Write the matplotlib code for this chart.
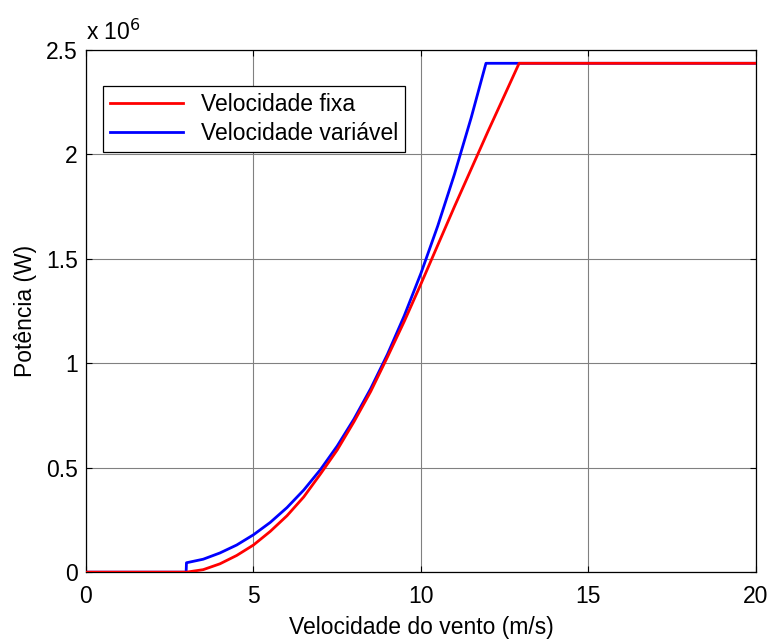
import matplotlib
matplotlib.use("Agg")
import matplotlib.pyplot as plt
from matplotlib.ticker import FuncFormatter, MultipleLocator

plt.rcParams.update({
    'font.family': ['Liberation Sans', 'DejaVu Sans'],
    'font.size': 16.5,
})

# wind speed (m/s) and power (W)
v_fixa = [0, 3.0, 3.5, 4.0, 4.5, 5.0, 5.5, 6.0, 6.5, 7.0, 7.5, 8.0, 8.5, 9.0,
          9.5, 10.0, 10.5, 11.0, 11.5, 12.0, 12.5, 12.93, 20]
p_fixa = [0, 0, 0.012e6, 0.040e6, 0.080e6, 0.130e6, 0.195e6, 0.27e6, 0.36e6,
          0.47e6, 0.585e6, 0.72e6, 0.865e6, 1.03e6, 1.20e6, 1.38e6, 1.565e6,
          1.75e6, 1.93e6, 2.11e6, 2.285e6, 2.436e6, 2.436e6]

v_var = [0, 2.99, 3.0, 3.5, 4.0, 4.5, 5.0, 5.5, 6.0, 6.5, 7.0, 7.5, 8.0, 8.5,
         9.0, 9.5, 10.0, 10.5, 11.0, 11.5, 11.94, 20]
p_var = [0, 0, 0.045e6, 0.062e6, 0.092e6, 0.130e6, 0.179e6, 0.238e6, 0.309e6,
         0.393e6, 0.491e6, 0.604e6, 0.733e6, 0.879e6, 1.043e6, 1.227e6, 1.431e6,
         1.657e6, 1.905e6, 2.176e6, 2.436e6, 2.436e6]

fig = plt.figure(figsize=(7.71, 6.40), dpi=100)
ax = fig.add_axes([0.1115, 0.106, 0.869, 0.816])

ax.plot(v_fixa, p_fixa, color='#ff0000', linewidth=2.0, label='Velocidade fixa', zorder=3)
ax.plot(v_var, p_var, color='#0000ff', linewidth=2.0, label='Velocidade variável', zorder=2)

ax.set_xlim(0, 20)
ax.set_ylim(0, 2.5e6)
ax.xaxis.set_major_locator(MultipleLocator(5))
ax.yaxis.set_major_locator(MultipleLocator(0.5e6))
ax.yaxis.set_major_formatter(FuncFormatter(lambda y, pos: f'{y / 1e6:g}'))
ax.grid(True, color='#808080', linewidth=0.8)
ax.set_axisbelow(True)
ax.tick_params(direction='in', length=4, width=0.8, top=True, right=True)
ax.tick_params(axis='x', pad=9)
ax.tick_params(axis='y', pad=6)
for s in ax.spines.values():
    s.set_linewidth(0.9)

ax.text(0, 1.01, r'x 10$^{6}$', transform=ax.transAxes, ha='left', va='bottom')

ax.set_xlabel('Velocidade do vento (m/s)', labelpad=6)
ax.set_ylabel('Potência (W)', labelpad=6)

leg = ax.legend(loc='upper left', bbox_to_anchor=(0.025, 0.93), fancybox=False,
                edgecolor='black', framealpha=1, borderpad=0.3, handlelength=3.2,
                labelspacing=0.25, borderaxespad=0)
leg.get_frame().set_linewidth(0.9)

fig.savefig('out.png', dpi=100)
